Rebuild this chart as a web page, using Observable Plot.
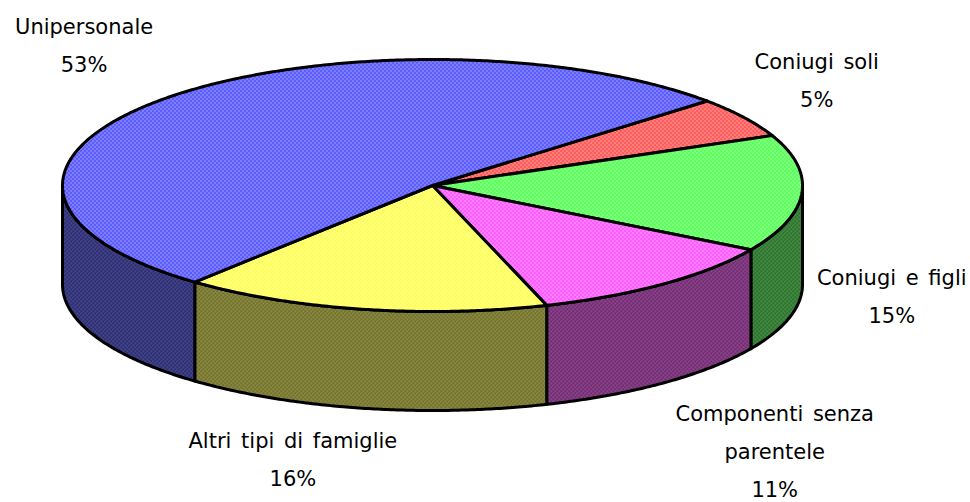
<!DOCTYPE html>
<html><head><meta charset="utf-8">
<script src="https://cdn.jsdelivr.net/npm/d3@7"></script>
<script src="https://cdn.jsdelivr.net/npm/@observablehq/plot@0.6"></script>
<style>html,body{margin:0;padding:0;background:#fff}svg{display:block}svg text{word-spacing:3px}</style>
</head><body><div id="chart"></div>
<script>
// Data, clockwise from the top right of the pie
const categories = ["Coniugi soli", "Coniugi e figli", "Componenti senza\nparentele", "Altri tipi di famiglie", "Unipersonale"];
const values = [5.2, 15.0, 11.5, 16.1, 52.2];
const percentLabels = ["5%", "15%", "11%", "16%", "53%"];
// Styles and layout
const topColors = ["#ff5c5c", "#5cff5c", "#ff5cff", "#ffff5c", "#5c5cff"];
const wallColors = ["#702c2c", "#2c702c", "#702c70", "#70702c", "#2c2c70"];
const topDots = ["#ffe0e0", "#e0ffe0", "#ffe0ff", "#ffffe0", "#e0e0ff"];
const wallDots = ["#a05858", "#58a058", "#a058a0", "#a0a058", "#5858a0"];
const labelDx = [73, 90, 111, -69, -82];
const labelDy = [-42, 98, 163, 146, -57];
const W = 970, H = 502, cx = 432, cy = 185, rx = 370, ry = 126, depth = 99, startAngle = -42.1;

const rad = d => d * Math.PI / 180;
const onRim = (a, drop = 0) => ({x: cx + rx * Math.cos(rad(a)), y: cy + ry * Math.sin(rad(a)) + drop});
const arc = (a0, a1, drop = 0) => {
  const n = Math.max(2, Math.ceil(Math.abs(a1 - a0) * 2));
  return d3.range(n + 1).map(i => onRim(a0 + (a1 - a0) * i / n, drop));
};
const total = d3.sum(values);
let acc = startAngle;
const slices = values.map((v, i) => {
  const a0 = acc; acc += v / total * 360;
  return {i, a0, a1: acc, mid: (a0 + acc) / 2};
});

const marks = [];
// side walls: only the front half of the rim (0..180 degrees) shows
slices.forEach(s => {
  const a0 = Math.max(s.a0, 0), a1 = Math.min(s.a1, 180);
  if (a1 > a0) {
    const pts = [...arc(a0, a1), ...arc(a1, a0, depth)];
    pts.push(pts[0]);
    marks.push(Plot.line(pts, {x: "x", y: "y", fill: `url(#w${s.i})`, stroke: "black", strokeWidth: 3, strokeLinejoin: "round"}));
  }
});
// top faces
slices.forEach(s => {
  const pts = [{x: cx, y: cy}, ...arc(s.a0, s.a1), {x: cx, y: cy}];
  marks.push(Plot.line(pts, {x: "x", y: "y", fill: `url(#t${s.i})`, stroke: "black", strokeWidth: 3, strokeLinejoin: "round"}));
});
// labels
slices.forEach(s => {
  marks.push(Plot.text([onRim(s.mid)], {
    x: "x", y: "y", dx: labelDx[s.i], dy: labelDy[s.i],
    text: () => categories[s.i] + "\n" + percentLabels[s.i],
    lineHeight: 1.81, fontSize: 21, fill: "black", textAnchor: "middle"
  }));
});

const plot = Plot.plot({
  width: W, height: H, margin: 0,
  style: {fontFamily: "'DejaVu Sans', sans-serif", background: "white"},
  x: {domain: [0, W], range: [0, W], axis: null},
  y: {domain: [0, H], range: [0, H], axis: null},
  marks
});

const defs = d3.select(plot).insert("defs", ":first-child");
const addPattern = (id, base, dot, size) => {
  const p = defs.append("pattern").attr("id", id).attr("patternUnits", "userSpaceOnUse")
    .attr("width", 4).attr("height", 4);
  p.append("rect").attr("width", 4).attr("height", 4).attr("fill", base);
  p.append("rect").attr("x", 0).attr("y", 0).attr("width", size).attr("height", size).attr("fill", dot);
  p.append("rect").attr("x", 2).attr("y", 2).attr("width", size).attr("height", size).attr("fill", dot);
};
topColors.forEach((c, i) => addPattern("t" + i, c, topDots[i], 1));
wallColors.forEach((c, i) => addPattern("w" + i, c, wallDots[i], 1.5));
document.getElementById("chart").append(plot);
</script></body></html>
